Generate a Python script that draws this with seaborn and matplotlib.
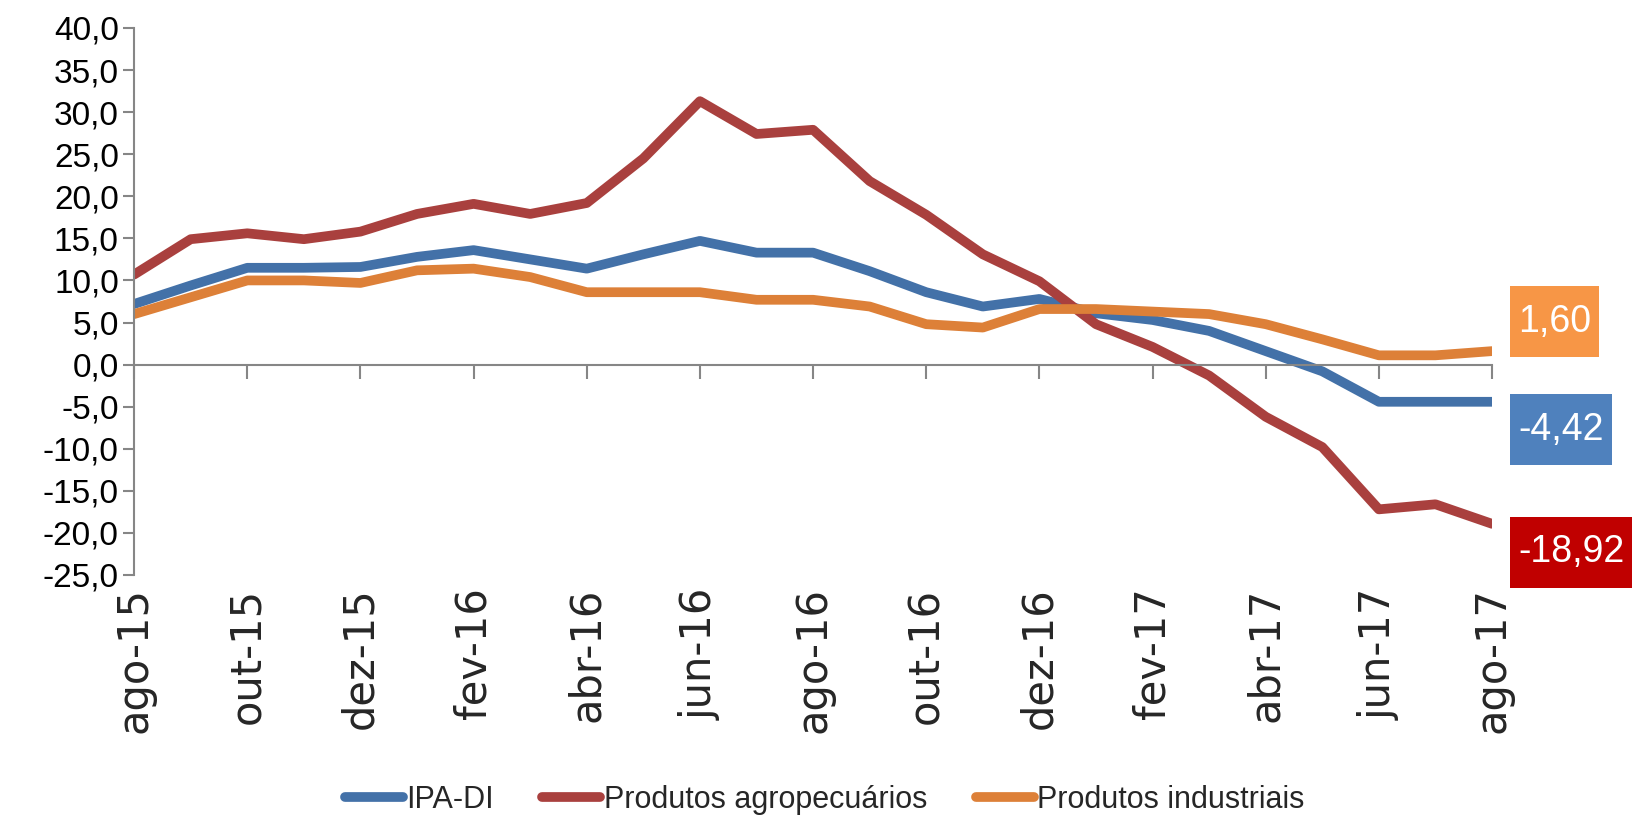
import pandas as pd
import matplotlib
matplotlib.use('Agg')
import matplotlib.pyplot as plt
from matplotlib.lines import Line2D
from matplotlib.patches import Rectangle
from matplotlib.transforms import IdentityTransform
from matplotlib.ticker import FuncFormatter
import seaborn as sns

# dados (variação % em 12 meses)
meses = ['ago-15', 'set-15', 'out-15', 'nov-15', 'dez-15', 'jan-16', 'fev-16', 'mar-16',
         'abr-16', 'mai-16', 'jun-16', 'jul-16', 'ago-16', 'set-16', 'out-16', 'nov-16',
         'dez-16', 'jan-17', 'fev-17', 'mar-17', 'abr-17', 'mai-17', 'jun-17', 'jul-17', 'ago-17']
ipa_di = [7.2, 9.4, 11.5, 11.5, 11.6, 12.8, 13.6, 12.5, 11.4, 13.1, 14.7, 13.3, 13.3,
          11.1, 8.6, 6.9, 7.8, 6.1, 5.3, 4.0, 1.6, -0.8, -4.42, -4.42, -4.42]
agro = [10.7, 14.9, 15.6, 14.9, 15.8, 17.9, 19.1, 17.9, 19.2, 24.5, 31.3, 27.4, 27.9,
        21.8, 17.8, 13.1, 9.9, 4.8, 2.1, -1.3, -6.2, -9.8, -17.2, -16.6, -18.92]
industriais = [6.0, 8.0, 10.0, 10.0, 9.7, 11.2, 11.4, 10.4, 8.6, 8.6, 8.6, 7.7, 7.7,
               6.9, 4.8, 4.4, 6.6, 6.6, 6.3, 6.0, 4.8, 3.0, 1.1, 1.1, 1.60]
series = ['IPA-DI', 'Produtos agropecuários', 'Produtos industriais']
cores = ['#4371A8', '#A9403E', '#DD8038']
caixas = ['#4F81BD', '#C00000', '#F79646']
rotulos = ['-4,42', '-18,92', '1,60']
desloc = [-3.3, -3.4, 3.5]

df = pd.DataFrame({'x': list(range(len(meses))) * 3,
                   'valor': ipa_di + agro + industriais,
                   'serie': [s for s in series for _ in meses]})

sns.set_style('white')
plt.rcParams['font.family'] = ['Liberation Sans', 'DejaVu Sans']

fig, ax = plt.subplots(figsize=(16.36, 8.22), dpi=100)
fig.subplots_adjust(left=0.082, right=0.912, top=0.966, bottom=0.3005)

sns.lineplot(data=df, x='x', y='valor', hue='serie', hue_order=series,
             palette=cores, linewidth=7, legend=False, ax=ax)
for ln in ax.lines:
    ln.set_solid_capstyle('round')
    ln.set_solid_joinstyle('round')

ax.set_xlim(0, 24)
ax.set_ylim(-25, 40)
ax.set_yticks(range(-25, 41, 5))
ax.yaxis.set_major_formatter(FuncFormatter(lambda v, p: f'{v:.1f}'.replace('.', ',')))
ax.set_xlabel('')
ax.set_ylabel('')

for s in ['top', 'right']:
    ax.spines[s].set_visible(False)
ax.spines['bottom'].set_position(('data', 0))
for s in ['left', 'bottom']:
    ax.spines[s].set_color('#868686')
    ax.spines[s].set_linewidth(1.5)

ax.set_xticks(range(0, 25, 2))
ax.tick_params(axis='x', bottom=True, direction='out', length=10, width=1.5,
               color='#868686', labelbottom=False)
ax.tick_params(axis='y', left=True, direction='out', length=8, width=1.5, color='#868686',
               pad=3, labelsize=24, labelcolor='black')

sec = ax.secondary_xaxis('bottom')
sec.set_xticks(range(0, 25, 2), labels=meses[::2], fontfamily='DejaVu Sans', fontsize=30)
sec.tick_params(bottom=False, length=0, pad=9, labelrotation=90)
sec.spines['bottom'].set_visible(False)

# caixas com o último valor
textos = []
for i, s in enumerate(series):
    ultimo = df[df['serie'] == s]['valor'].iloc[-1]
    t = ax.text(24.46, ultimo + desloc[i], rotulos[i], color='white', fontsize=27,
                ha='left', va='center', clip_on=False, zorder=6)
    textos.append(t)

fig.canvas.draw()
for t, c in zip(textos, caixas):
    bb = t.get_window_extent()
    cy = (bb.y0 + bb.y1) / 2
    ax.add_patch(Rectangle((bb.x0 - 8, cy - 35.5), bb.width + 16, 71, transform=IdentityTransform(),
                           fc=c, ec='none', clip_on=False, zorder=5))

handles = [Line2D([0], [0], color=c, lw=7, solid_capstyle='round') for c in cores]
fig.legend(handles, series, loc='center', bbox_to_anchor=(0.504, 0.027), ncol=3,
           frameon=False, fontsize=22, handlelength=1.9, handletextpad=0.1, columnspacing=1.6)

fig.savefig('out.png', dpi=100)
